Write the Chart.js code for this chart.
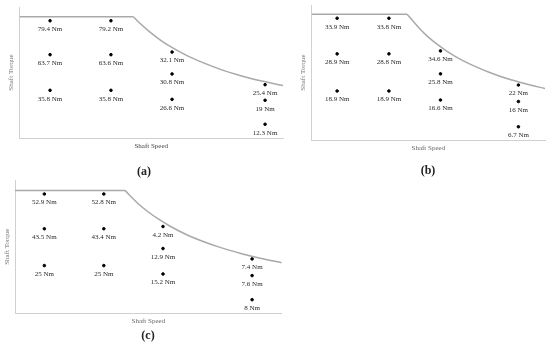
<!DOCTYPE html>
<html>
<head>
<meta charset="utf-8">
<script src="https://cdn.jsdelivr.net/npm/chart.js"></script>
<style>
  body { margin: 0; background: #fff; }
  #wrap { position: relative; width: 550px; height: 345px; overflow: hidden; }
  #wrap canvas { position: absolute; left: 0; top: 0; }
  .cap { position: absolute; font: bold 12px "Liberation Serif", serif; color: #222; transform: translate(-50%, -50%); }
</style>
</head>
<body>
<div id="wrap">
  <canvas id="chartA" width="550" height="345"></canvas>
  <canvas id="chartB" width="550" height="345"></canvas>
  <canvas id="chartC" width="550" height="345"></canvas>
  <div class="cap" style="left:144px;top:171px">(a)</div>
  <div class="cap" style="left:428px;top:170px">(b)</div>
  <div class="cap" style="left:148px;top:335px">(c)</div>
</div>
<script>
// operating points, positions in % of each axis (schematic, no real units)
const xA = [11.6, 11.6, 11.6, 34.7, 34.7, 34.7, 57.9, 57.9, 57.9, 93.2, 93.2, 93.2]
const yA = [89.5, 63.6, 36.4, 89.5, 63.6, 36.4, 65.6, 48.9, 29.5, 40.7, 28.8, 10.5]
const labelsA = ['79.4 Nm', '63.7 Nm', '35.8 Nm', '79.2 Nm', '63.6 Nm', '35.8 Nm',
  '32.1 Nm', '30.8 Nm', '26.6 Nm', '25.4 Nm', '19 Nm', '12.3 Nm']

const xB = [10.9, 10.9, 10.9, 33.1, 33.1, 33.1, 55.2, 55.2, 55.2, 88.6, 88.6, 88.6]
const yB = [90.2, 63.8, 36.3, 90.2, 63.8, 36.3, 66.0, 49.0, 29.6, 40.7, 28.5, 9.8]
const labelsB = ['33.9 Nm', '28.9 Nm', '18.9 Nm', '33.8 Nm', '28.8 Nm', '18.9 Nm',
  '34.6 Nm', '25.8 Nm', '16.6 Nm', '22 Nm', '16 Nm', '6.7 Nm']

const xC = [11.0, 11.0, 11.0, 33.3, 33.3, 33.3, 55.5, 55.5, 55.5, 88.9, 88.9, 88.9]
const yC = [89.5, 63.4, 35.8, 89.5, 63.4, 35.8, 65.1, 48.6, 29.5, 40.8, 28.3, 10.2]
const labelsC = ['52.9 Nm', '43.5 Nm', '25 Nm', '52.8 Nm', '43.4 Nm', '25 Nm',
  '4.2 Nm', '12.9 Nm', '15.2 Nm', '7.4 Nm', '7.6 Nm', '8 Nm']

// torque limit curve: flat part then falling part
const flatXA = [0, 43.2], flatYA = [92.6, 92.6]
const curveXA = [43.2, 46, 50, 54, 58, 65, 76, 85, 92.4, 100]
const curveYA = [92.6, 87, 80, 74, 69, 61.5, 52.6, 47, 43.3, 40]

const flatXB = [0, 40.9], flatYB = [93.2, 93.2]
const curveXB = [40.9, 46, 50, 54, 58, 65, 76, 85, 92.4, 100]
const curveYB = [93.2, 83, 76.2, 70.6, 65.7, 58.6, 50.2, 44.8, 41.3, 38.1]

const flatXC = [0, 41.2], flatYC = [92.2, 92.2]
const curveXC = [41.2, 46, 50, 54, 58, 65, 76, 85, 92.4, 100]
const curveYC = [92.2, 82.6, 76, 70.4, 65.5, 58.4, 50, 44.7, 41.1, 38]

const serif = '"Liberation Serif", "Times New Roman", serif'

const toXY = (xs, ys) => xs.map((x, i) => ({ x: x, y: ys[i] }))

// draw the Nm text under each dot
const pointLabels = {
  id: 'pointLabels',
  afterDatasetsDraw(chart) {
    const ctx = chart.ctx
    chart.data.datasets.forEach((ds, i) => {
      if (!ds.pointText) return
      const meta = chart.getDatasetMeta(i)
      ctx.save()
      ctx.font = '7px ' + serif
      ctx.fillStyle = '#2a2a2a'
      ctx.textAlign = 'center'
      ctx.textBaseline = 'middle'
      meta.data.forEach((pt, j) => {
        ctx.fillText(ds.pointText[j], pt.x, pt.y + 8.5)
      })
      ctx.restore()
    })
  }
}

function makeChart(id, xs, ys, labels, fx, fy, cx, cy, pad, speedColor) {
  return new Chart(document.getElementById(id), {
    type: 'scatter',
    data: {
      datasets: [
        {
          data: toXY(fx, fy),
          showLine: true,
          borderColor: '#a9a9a9',
          borderWidth: 1.5,
          pointRadius: 0,
        },
        {
          data: toXY(cx, cy),
          showLine: true,
          cubicInterpolationMode: 'monotone',
          borderColor: '#a9a9a9',
          borderWidth: 1.5,
          pointRadius: 0,
        },
        {
          data: toXY(xs, ys),
          pointText: labels,
          backgroundColor: '#000',
          borderColor: '#000',
          pointRadius: 1.3,
          clip: false,
        },
      ],
    },
    options: {
      responsive: false,
      animation: false,
      layout: { padding: pad },
      plugins: { legend: { display: false }, tooltip: { enabled: false } },
      scales: {
        x: {
          min: 0, max: 100,
          ticks: { display: false },
          grid: { display: false, drawTicks: false },
          border: { color: '#d0d0d0', width: 1 },
          title: { display: true, text: 'Shaft Speed', color: speedColor,
            font: { family: serif, size: 7 }, padding: { top: 4, bottom: 4 } },
        },
        y: {
          min: 0, max: 100,
          ticks: { display: false },
          grid: { display: false, drawTicks: false },
          border: { color: '#d0d0d0', width: 1 },
          title: { display: true, text: 'Shaft Torque', color: '#777',
            font: { family: serif, size: 7 }, padding: { top: 2, bottom: 4 } },
        },
      },
    },
    plugins: [pointLabels],
  })
}

window.chartA = makeChart('chartA', xA, yA, labelsA, flatXA, flatYA, curveXA, curveYA,
  { left: 5.1, right: 267, top: 7, bottom: 190.6 }, '#444')
window.chartB = makeChart('chartB', xB, yB, labelsB, flatXB, flatYB, curveXB, curveYB,
  { left: 297.3, right: 3, top: 4, bottom: 188.6 }, '#666')
window.chartC = makeChart('chartC', xC, yC, labelsC, flatXC, flatYC, curveXC, curveYC,
  { left: 0.6, right: 268.3, top: 180, bottom: 15.3 }, '#666')
</script>
</body>
</html>
